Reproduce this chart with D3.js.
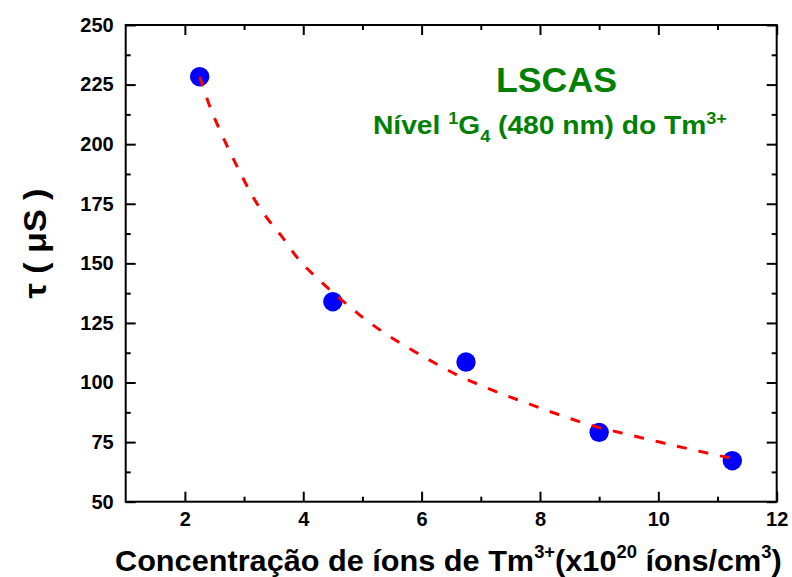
<!DOCTYPE html>
<html>
<head>
<meta charset="utf-8">
<script src="https://cdn.jsdelivr.net/npm/d3@7"></script>
<style>
  body { margin: 0; background: #fff; }
  text { font-family: Arial, "Liberation Sans", sans-serif; font-weight: bold; }
</style>
</head>
<body>
<svg id="chart" width="792" height="577"></svg>
<script>
// Tick positions
const xTickValues = [2, 4, 6, 8, 10, 12];
const xMinorTicks = [3, 5, 7, 9, 11];
const yTickValues = [50, 75, 100, 125, 150, 175, 200, 225, 250];
const yMinorTicks = [62.5, 87.5, 112.5, 137.5, 162.5, 187.5, 212.5, 237.5];

// Measured lifetimes (µs) vs. Tm3+ concentration (x10^20 ions/cm3)
const concentration = [2.25, 4.5, 6.75, 9, 11.25];
const lifetime = [228.3, 133.9, 108.6, 79.1, 67.2];

// Fitted decay curve
const fitConcentration = [2.25, 2.44, 2.59, 2.76, 2.94, 3.13, 3.37, 3.64, 3.92, 4.27, 4.65, 4.99,
  5.34, 5.8, 6.28, 6.64, 7.0, 7.36, 7.73, 8.09, 8.44, 8.79, 9.17, 9.53, 9.89, 10.24, 10.6, 10.97, 11.25];
const fitLifetime = [228.3, 214.6, 205.9, 196.8, 187.8, 178.7, 169.6, 161.2, 151.7, 143.0, 134.6, 127.6,
  121.3, 114.2, 107.4, 102.7, 98.8, 95.2, 91.8, 88.5, 85.5, 82.6, 80.1, 77.9, 75.8, 73.7, 71.7, 69.6, 68.2];

const svg = d3.select("#chart");
const plot = { left: 125.7, right: 776.7, top: 25, bottom: 501.7 };

const x = d3.scaleLinear().domain([1, 12]).range([plot.left, plot.right]);
const y = d3.scaleLinear().domain([50, 250]).range([plot.bottom, plot.top]);

function styleAxis(g) {
  g.select(".domain").remove();
  g.selectAll(".tick line").attr("stroke", "#000").attr("stroke-width", 2);
  g.selectAll(".tick text").attr("fill", "#000").style("font-size", "20px");
}

// Major ticks with labels (bottom / left), pointing inward
svg.append("g").attr("transform", `translate(0,${plot.bottom})`)
  .call(d3.axisBottom(x).tickValues(xTickValues).tickSize(-10).tickPadding(10).tickFormat(d3.format("d")))
  .call(styleAxis);
svg.append("g").attr("transform", `translate(${plot.left},0)`)
  .call(d3.axisLeft(y).tickValues(yTickValues).tickSize(-10).tickPadding(12).tickFormat(d3.format("d")))
  .call(styleAxis);
// Minor ticks bottom / left
svg.append("g").attr("transform", `translate(0,${plot.bottom})`)
  .call(d3.axisBottom(x).tickValues(xMinorTicks).tickSize(-5).tickFormat(""))
  .call(styleAxis);
svg.append("g").attr("transform", `translate(${plot.left},0)`)
  .call(d3.axisLeft(y).tickValues(yMinorTicks).tickSize(-5).tickFormat(""))
  .call(styleAxis);
// Mirror ticks on top / right
svg.append("g").attr("transform", `translate(0,${plot.top})`)
  .call(d3.axisTop(x).tickValues(xTickValues).tickSize(-10).tickFormat(""))
  .call(styleAxis);
svg.append("g").attr("transform", `translate(0,${plot.top})`)
  .call(d3.axisTop(x).tickValues(xMinorTicks).tickSize(-5).tickFormat(""))
  .call(styleAxis);
svg.append("g").attr("transform", `translate(${plot.right},0)`)
  .call(d3.axisRight(y).tickValues(yTickValues).tickSize(-10).tickFormat(""))
  .call(styleAxis);
svg.append("g").attr("transform", `translate(${plot.right},0)`)
  .call(d3.axisRight(y).tickValues(yMinorTicks).tickSize(-5).tickFormat(""))
  .call(styleAxis);

// Frame
svg.append("rect")
  .attr("x", plot.left).attr("y", plot.top)
  .attr("width", plot.right - plot.left).attr("height", plot.bottom - plot.top)
  .attr("fill", "none").attr("stroke", "#000").attr("stroke-width", 2);

// Data points
svg.append("g").selectAll("circle")
  .data(concentration)
  .join("circle")
  .attr("cx", (d) => x(d))
  .attr("cy", (d, i) => y(lifetime[i]))
  .attr("r", 9.7)
  .attr("fill", "#0000ff");

// Fit curve (dashed, drawn over the points)
const fitLine = d3.line()
  .x((d) => x(d))
  .y((d, i) => y(fitLifetime[i]))
  .curve(d3.curveMonotoneX);
svg.append("path")
  .attr("d", fitLine(fitConcentration))
  .attr("fill", "none")
  .attr("stroke", "#ff0000")
  .attr("stroke-width", 3)
  .attr("stroke-dasharray", "10,12");

// Stretch a text horizontally so that it spans [left, left + width]
function fitWidth(sel, left, width) {
  const bb = sel.node().getBBox();
  const k = width / bb.width;
  sel.attr("transform", `translate(${left},0) scale(${k},1) translate(${-bb.x},0)`);
}

// Sample name
const title = svg.append("text")
  .attr("x", 0).attr("y", 91.7)
  .attr("fill", "#008000")
  .style("font-size", "36px")
  .text("LSCAS");
fitWidth(title, 496, 121);

// Energy level caption
const sub = svg.append("text")
  .attr("x", 0).attr("y", 134)
  .attr("fill", "#008000")
  .style("font-size", "25px");
sub.append("tspan").text("Nível ");
sub.append("tspan").attr("dy", -10).style("font-size", "16px").text("1");
sub.append("tspan").attr("dy", 10).text("G");
sub.append("tspan").attr("dy", 8).style("font-size", "16px").text("4");
sub.append("tspan").attr("dy", -8).text(" (480 nm) do Tm");
sub.append("tspan").attr("dy", -10).style("font-size", "16px").text("3+");
fitWidth(sub, 373, 354);

// X axis title
const xTitle = svg.append("text")
  .attr("x", 0).attr("y", 571.5)
  .attr("fill", "#000")
  .style("font-size", "30px");
xTitle.append("tspan").text("Concentração de íons de Tm");
xTitle.append("tspan").attr("dy", -13).style("font-size", "18px").text("3+");
xTitle.append("tspan").attr("dy", 13).text("(x10");
xTitle.append("tspan").attr("dy", -13).style("font-size", "18px").text("20");
xTitle.append("tspan").attr("dy", 13).text(" íons/cm");
xTitle.append("tspan").attr("dy", -13).style("font-size", "18px").text("3");
xTitle.append("tspan").attr("dy", 13).text(")");
fitWidth(xTitle, 115, 667);

// Y axis title
const yTitleG = svg.append("g").attr("transform", "translate(46,243.5) rotate(-90)");
const yTitle = yTitleG.append("text")
  .attr("x", 0).attr("y", 0)
  .attr("fill", "#000")
  .style("font-size", "32px")
  .text("τ ( μS )");
fitWidth(yTitle, -55, 110);
</script>
</body>
</html>
